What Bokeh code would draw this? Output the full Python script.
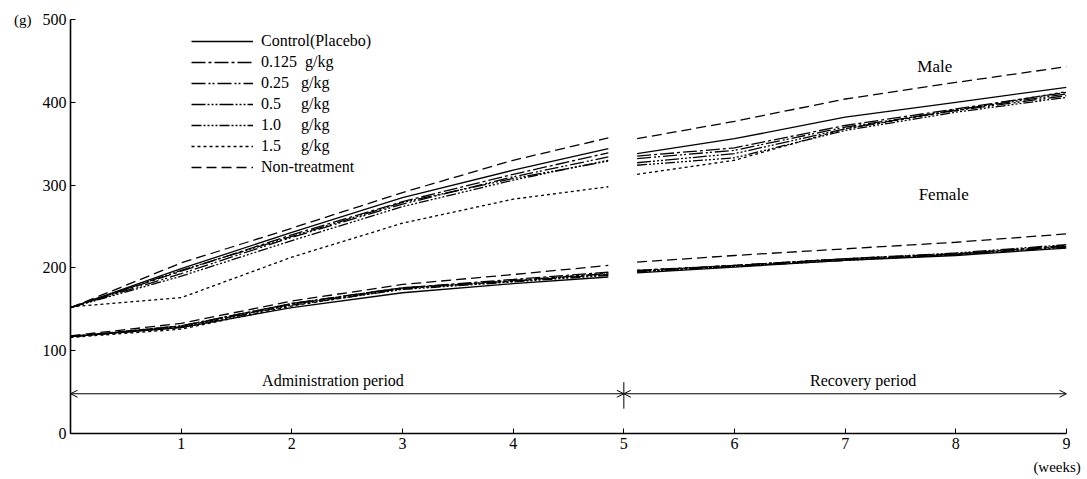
from bokeh.plotting import figure
from bokeh.models import (Legend, LegendItem, Arrow, OpenHead, FixedTicker)
from bokeh.embed import file_html
from bokeh.resources import INLINE
from bokeh.core.properties import value

# ---------------- data ----------------
groups = ["Control(Placebo)", "0.125  g/kg", "0.25   g/kg", "0.5     g/kg",
          "1.0     g/kg", "1.5     g/kg", "Non-treatment"]
dashes = ["solid", "14 3 3 3", "14 3 2 2 2 3", "14 2 2 2 2 2 2 2",
          "10 2 2 2 2 2 2 2 2 2", "3 3", "10 5"]

admin_weeks = [0, 1, 2, 3, 4, 4.86]
recovery_weeks = [5.12, 6, 7, 8, 9]

male_admin = [
    [152, 199, 243, 285, 318, 344],
    [152, 196, 240, 280, 313, 339],
    [152, 193, 237, 277, 310, 334],
    [152, 197, 238, 279, 308, 329],
    [152, 190, 233, 274, 306, 330],
    [153, 164, 213, 254, 283, 298],
    [152, 206, 248, 291, 330, 357],
]
male_recovery = [
    [338, 356, 382, 400, 418],
    [335, 345, 372, 392, 412],
    [332, 342, 370, 390, 408],
    [327, 338, 368, 391, 410],
    [324, 333, 366, 388, 406],
    [313, 330, 368, 390, 413],
    [356, 377, 404, 424, 443],
]
female_admin = [
    [117, 128, 152, 170, 181, 189],
    [117, 130, 157, 176, 186, 195],
    [117, 129, 156, 175, 185, 193],
    [117, 130, 157, 176, 184, 192],
    [117, 128, 155, 174, 183, 191],
    [116, 126, 154, 175, 184, 194],
    [118, 133, 160, 180, 192, 203],
]
female_recovery = [
    [194, 201, 209, 215, 224],
    [197, 203, 211, 217, 227],
    [196, 202, 210, 216, 226],
    [196, 203, 211, 218, 228],
    [195, 202, 209, 216, 225],
    [197, 203, 211, 217, 226],
    [207, 215, 223, 231, 241],
]

x_ticks = [1, 2, 3, 4, 5, 6, 7, 8, 9]
y_ticks = [0, 100, 200, 300, 400, 500]

FONT = "Liberation Serif"

# ---------------- figure ----------------
p = figure(width=1085, height=479, x_range=(0, 9), y_range=(0, 500),
           output_backend="svg", toolbar_location=None,
           min_border_left=70, min_border_right=19,
           min_border_top=19, min_border_bottom=46)
p.outline_line_color = None
p.xgrid.grid_line_color = None
p.ygrid.grid_line_color = None
p.background_fill_color = "white"

for ax in (p.xaxis[0], p.yaxis[0]):
    ax.axis_line_width = 1.6
    ax.axis_line_color = "black"
    ax.major_tick_in = 5
    ax.major_tick_out = 0
    ax.minor_tick_line_color = None
    ax.major_tick_line_color = "black"
    ax.major_label_text_font = FONT
    ax.major_label_text_font_size = "16px"
    ax.major_label_text_color = "black"
    ax.major_label_standoff = 4
    ax.axis_label_text_font = FONT
    ax.axis_label_text_font_size = "15px"
    ax.axis_label_text_font_style = "normal"
    ax.axis_label_text_color = "black"

p.xaxis.ticker = FixedTicker(ticks=x_ticks)
p.yaxis.ticker = FixedTicker(ticks=y_ticks)

p.xaxis.axis_label = "(weeks)" + "\u00a0" * 5
p.xaxis.axis_label_align = "end"
p.xaxis.axis_label_standoff = 7

p.yaxis.axis_label = "(g)"
p.yaxis.axis_label_align = "end"
p.yaxis.axis_label_orientation = "horizontal"
p.yaxis.axis_label_standoff = 8

items = []
for i, g in enumerate(groups):
    kw = dict(line_color="black", line_width=1.3, line_dash=dashes[i])
    r1 = p.line(admin_weeks, male_admin[i], **kw)
    p.line(recovery_weeks, male_recovery[i], **kw)
    p.line(admin_weeks, female_admin[i], **kw)
    p.line(recovery_weeks, female_recovery[i], **kw)
    items.append(LegendItem(label=g, renderers=[r1]))

legend = Legend(items=items, location=(121, 256), glyph_width=62,
                glyph_height=20, label_height=20, spacing=1, padding=0,
                margin=0, label_standoff=8, border_line_alpha=0,
                background_fill_alpha=0, label_text_font=FONT,
                label_text_font_size="16px", label_text_color="black")
p.add_layout(legend, "center")

# period arrows
arrow_y = 48
for xs, xe in [(2.5, 0), (2.5, 5), (7, 5), (7, 9)]:
    p.add_layout(Arrow(x_start=xs, y_start=arrow_y, x_end=xe, y_end=arrow_y,
                       end=OpenHead(size=7, line_width=1), line_width=1))
p.segment(x0=[5], y0=[30], x1=[5], y1=[62], line_color="black", line_width=1)

p.text(x=[2.39, 7.18], y=[64, 64],
       text=["Administration  period", "Recovery  period"],
       text_font=value(FONT), text_font_size="16px", text_align="center",
       text_baseline="middle", text_color="black")
p.text(x=[7.81, 7.89], y=[443, 289], text=["Male", "Female"],
       text_font=value(FONT), text_font_size="17px", text_align="center",
       text_baseline="middle", text_color="black")

open("out.html", "w").write(file_html(p, INLINE))
